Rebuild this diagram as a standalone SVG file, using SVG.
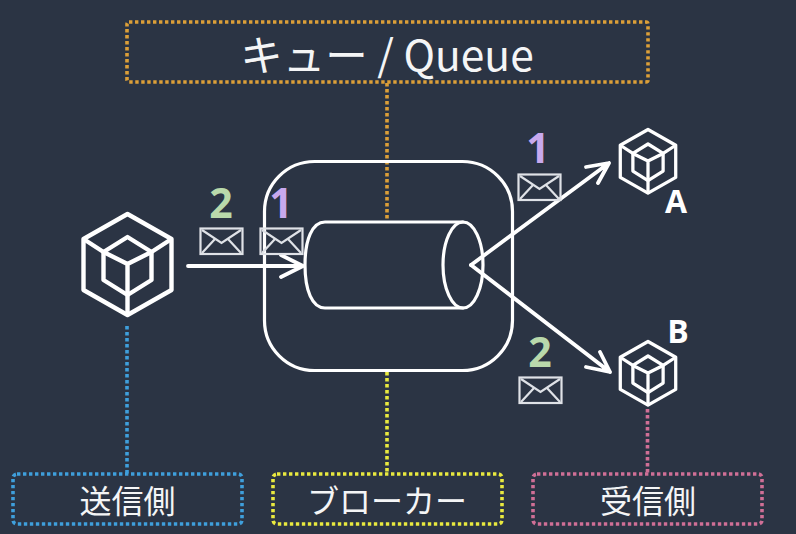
<svg xmlns="http://www.w3.org/2000/svg" width="796" height="534" viewBox="0 0 796 534">
<style>
.dot{fill:none;stroke-width:3.6;stroke-dasharray:3.4 2.6}
.line{fill:none;stroke:#fff;stroke-width:3.200;stroke-linejoin:round;stroke-linecap:round}
.arrow{fill:none;stroke:#fff;stroke-width:3.800;stroke-linecap:round;stroke-linejoin:round}
.cube{fill:none;stroke:#fff;stroke-linejoin:round}
.env{fill:none;stroke:#dfe2e7;stroke-width:2.200}
.lbl{font-family:"Noto Sans CJK JP","Noto Sans",sans-serif;fill:#f4f5f6;text-anchor:middle}
.num{font-family:"Open Sans","Liberation Sans",sans-serif;font-weight:700;font-size:41px;text-anchor:middle}
.ab{font-family:"Open Sans","Liberation Sans",sans-serif;font-weight:700;font-size:32px;fill:#fff;text-anchor:middle}
</style>
<defs>
<g id="cube">
<path d="M0-50L44-25V26L0 51L-44 26V-25Z"/>
<path d="M0-27L24-12V16L0 31L-24 16V-12Z"/>
<path d="M-44-25L-24-12L0 0L24-12L44-25M0 0V51"/>
</g>
<g id="env">
<rect x="0.5" y="0.5" width="42" height="25.5"/>
<path d="M2 2L21.500 15L41 2M2 25L15 11M41 25L28 11"/>
</g>
</defs>
<rect width="796" height="534" fill="#2b3444"/>
<g id="connectors">
<path class="dot" stroke="#dc9f38" d="M387 83V220"/>
<path class="dot" stroke="#3f9fdc" d="M127 326V474"/>
<path class="dot" stroke="#e9e93f" d="M387 372V474"/>
<path class="dot" stroke="#d06f96" d="M647.500 409V474"/>
<path class="arrow" d="M188 266H303M281 255L303 266L281 277"/>
<path class="arrow" d="M471 265L609 163M586 167L609 163L598 183"/>
<path class="arrow" d="M471 265L610 372M586 367L610 372L600 352"/>
</g>
<g id="queue-label">
<rect class="dot" stroke="#dc9f38" x="127" y="22" width="521" height="60" rx="2"/>
<text class="lbl" x="387" y="71" font-size="42.500">キュー / Queue</text>
</g>
<g id="sender-label">
<rect class="dot" stroke="#3f9fdc" x="13" y="474" width="229" height="50" rx="4"/>
<text class="lbl" x="127.500" y="513" font-size="32">送信側</text>
</g>
<g id="broker-label">
<rect class="dot" stroke="#e9e93f" x="273" y="474" width="229" height="50" rx="4"/>
<text class="lbl" x="387" y="513" font-size="32">ブローカー</text>
</g>
<g id="receiver-label">
<rect class="dot" stroke="#d06f96" x="533" y="474" width="229" height="50" rx="4"/>
<text class="lbl" x="648" y="513" font-size="32">受信側</text>
</g>
<g id="broker">
<rect class="line" x="264.500" y="161.500" width="248" height="209" rx="50"/>
<path class="line" d="M463 222H325C312 222 305 240 305 265C305 290 312 308 325 308H463"/>
<ellipse class="line" cx="463" cy="265" rx="20" ry="43"/>
</g>
<g id="sender">
<use href="#cube" class="cube" transform="translate(127.500 264)" stroke-width="4.400"/>
</g>
<g id="receiver-a">
<use href="#cube" class="cube" transform="translate(648 161) scale(.63)" stroke-width="5.200"/>
<text class="ab" x="676" y="213">A</text>
</g>
<g id="receiver-b">
<use href="#cube" class="cube" transform="translate(648 373) scale(.63)" stroke-width="5.200"/>
<text class="ab" x="678" y="343">B</text>
</g>
<g id="msg-2-sender">
<use href="#env" class="env" x="200" y="228"/>
<text class="num" x="221" y="218" fill="#b9d9ab">2</text>
</g>
<g id="msg-1-sender">
<use href="#env" class="env" x="260" y="228"/>
<text class="num" x="281" y="218" fill="#c8a9ee">1</text>
</g>
<g id="msg-1-receiver">
<use href="#env" class="env" x="518" y="174"/>
<text class="num" x="538" y="163" fill="#c8a9ee">1</text>
</g>
<g id="msg-2-receiver">
<use href="#env" class="env" x="519" y="377"/>
<text class="num" x="540" y="367" fill="#b9d9ab">2</text>
</g>
</svg>
